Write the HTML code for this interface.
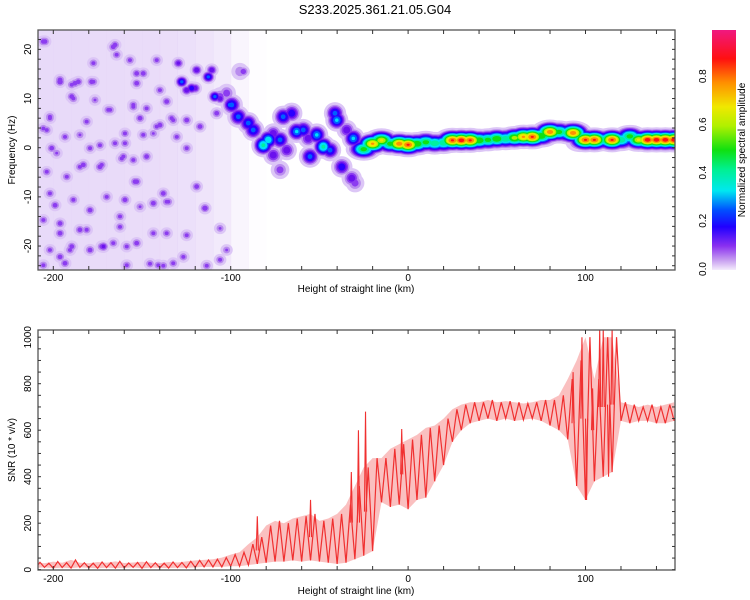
<!DOCTYPE html>
<html><head><meta charset="utf-8"><style>
body{margin:0;background:#fff;}
svg{display:block;font-family:"Liberation Sans",sans-serif;}
</style></head><body>
<svg id="chart" width="750" height="600" viewBox="0 0 750 600" xmlns="http://www.w3.org/2000/svg">
<defs><linearGradient id="cbar" x1="0" y1="1" x2="0" y2="0">
<stop offset="0" stop-color="#f4ecfc"/><stop offset="0.04" stop-color="#c8a0f0"/><stop offset="0.1" stop-color="#8a30f0"/><stop offset="0.18" stop-color="#2000ff"/><stop offset="0.25" stop-color="#0050ff"/><stop offset="0.33" stop-color="#00e8f0"/><stop offset="0.42" stop-color="#00f090"/><stop offset="0.5" stop-color="#10e010"/><stop offset="0.6" stop-color="#b0f000"/><stop offset="0.68" stop-color="#f0e800"/><stop offset="0.78" stop-color="#ff9000"/><stop offset="0.88" stop-color="#ff1010"/><stop offset="1" stop-color="#f01880"/>
</linearGradient>
<clipPath id="clipTop"><rect x="38" y="30" width="637" height="240"/></clipPath>
<clipPath id="clipBot"><rect x="38" y="330" width="637" height="240"/></clipPath>
</defs>
<text x="375" y="14" text-anchor="middle" font-size="13">S233.2025.361.21.05.G04</text>
<g id="top" clip-path="url(#clipTop)"></g>
<g id="bot" clip-path="url(#clipBot)"></g>
<g id="axes"></g>
<rect x="712" y="30" width="24" height="240" fill="url(#cbar)"/>
<g id="cbaxis"></g>
<text transform="translate(745,150) rotate(-90)" text-anchor="middle" font-size="10">Normalized spectral amplitude</text>
<text transform="translate(15,150) rotate(-90)" text-anchor="middle" font-size="10">Frequency (Hz)</text>
<text transform="translate(15,450) rotate(-90)" text-anchor="middle" font-size="10">SNR (10 * v/v)</text>
<text x="356" y="292" text-anchor="middle" font-size="10">Height of straight line (km)</text>
<text x="356" y="594" text-anchor="middle" font-size="10">Height of straight line (km)</text>
</svg>
<script>
// ---- data ----
const xTicks=[-200,-100,0,100];
const freqTicks=[-20,-10,0,10,20];
const snrTicks=[0,200,400,600,800,1000];
const cbTicks=[0.0,0.2,0.4,0.6,0.8];
const noiseBandX=[-210,-200,-190,-180,-170,-160,-150,-140,-130,-120,-110,-100,-90];
const noiseBandLevel=[0.9,0.9,0.9,0.88,0.88,0.86,0.85,0.8,0.75,0.65,0.5,0.25,0.06];
const noiseX=[-205.6,-196.2,-189.6,-185.9,-178.4,-165.2,-164.3,-168,-176.5,-188.7,-201.9,-205.6,-185,-173.7,-159.6,-149.3,-139.9,-154.9,-143.6,-129.5,-119.2,-110.7,-127.6,-124.8,-120.1,-106,-100.4,-92.9,-153.9,-138,-135.2,-114.5,-173.7,-160.5,-185,-192.4,-201.9,-205.6,-196.2,-185,-179.3,-171.8,-190.6,-196.2,-205.6,-145.5,-138,-151.1,-162.4,-158.6,-143.6,-126.7,-106,-113.5,-198.1,-181.2,-153,-154.9,-147.4,-124.8,-117.3,-132.4,-107.9,-139.9,-149.3,
-204.7,-196.2,-187.8,-177.4,-166.2,-156.8,-153,-141.7,-177.4,-189.6,-169,-154.9,-151.1,-201.9,-203.7,-193.4,-200.9,-179.3,-165.2,-159.6,-141.7,-136.1,-133.3,-130.4,-124.8,-147.4,-161.4,-172.7,-183.1,-203.7,-153,-136.1,-143.6,-159.6,-169.9,-188.7,-199,-179.3,-162.4,-196.2,-181.2,-172.7,-201.9,-189.6,-179.3,-153,-166.2,-136.1,-124.8,-114.5,-106,-119.2,-102.3,-158.6,-132.4,-193.4,-112.6,-122,-108.9,-140.8];
const noiseY=[21.6,13.4,12.8,13.4,13.4,20.9,18.9,7.7,9.7,10,6.3,3.9,2.6,0.5,0.9,2.6,4.6,-2.5,2.9,17.2,15.8,15.8,13.4,11.7,12.1,10,8.7,15.5,-6.9,-9.3,-11,-12.3,-3.9,-1.8,-3.9,-5.9,-9.3,-14.7,-17.4,-16.7,-20.8,-20.1,-20.8,-22.2,-23.9,-23.6,-24,-12,-16.1,-20.1,-17.4,-22.2,-22.8,-24,-1.1,5.3,13.1,8.7,8,5.6,4.3,5.6,7,11.7,15.1,
21.6,13.8,13.1,13.4,20.5,17.8,15.1,17.8,17.2,10.4,7.7,8.3,6,6,3.6,2.2,-0.1,-0.1,0.9,2.9,4.3,9.4,6,2.2,-0.1,-1.8,-2.2,-3.5,-3.5,-4.9,-6.9,-11,-11.3,-10.6,-10,-10.6,-11.7,-12.7,-14,-15.4,-16.7,-20.1,-20.8,-20.1,-20.8,-19.4,-19.4,-17.4,-17.8,-12.3,-16.4,-7.9,-20.8,-23.9,-23.5,-23.5,14.4,12.1,10.4,-23.9];
const noiseAmp=[0.15,0.16,0.14,0.15,0.15,0.15,0.14,0.14,0.13,0.14,0.14,0.14,0.13,0.14,0.14,0.14,0.15,0.14,0.13,0.18,0.2,0.2,0.3,0.2,0.2,0.2,0.32,0.16,0.15,0.15,0.14,0.16,0.15,0.14,0.14,0.14,0.14,0.14,0.15,0.15,0.15,0.18,0.14,0.15,0.14,0.14,0.14,0.13,0.14,0.14,0.14,0.14,0.14,0.14,0.13,0.14,0.15,0.14,0.14,0.15,0.15,0.14,0.15,0.14,0.15,
0.15,0.15,0.15,0.14,0.15,0.14,0.15,0.14,0.14,0.15,0.14,0.14,0.15,0.14,0.14,0.14,0.15,0.14,0.14,0.14,0.14,0.15,0.14,0.14,0.14,0.15,0.14,0.14,0.15,0.14,0.15,0.14,0.15,0.15,0.14,0.14,0.15,0.15,0.14,0.15,0.14,0.15,0.14,0.15,0.14,0.15,0.14,0.14,0.14,0.14,0.13,0.15,0.13,0.14,0.14,0.15,0.3,0.25,0.3,0.14];
const streakX=[-99.4,-102.3,-95.7,-90.1,-87.3,-81.6,-78.8,-76,-72.2,-68.4,-76,-72.2,-70.4,-65.6,-62.8,-59.1,-56.3,-55.3,-51.5,-47.8,-44,-41.2,-40.2,-34.6,-30.9,-37.4,-31.8,-29.9,-94.8,-106];
const streakF=[8.7,11.1,6.3,5,3.6,0.5,1.6,2.9,1.6,-0.5,-1.5,-4.5,6.3,7,3.3,3.6,1.9,-1.8,2.6,0.2,-0.5,7,5.6,3.6,1.9,-3.9,-6.2,-7.2,15.5,10.4];
const streakAmp=[0.3,0.15,0.3,0.3,0.3,0.45,0.4,0.2,0.3,0.2,0.2,0.15,0.3,0.25,0.35,0.3,0.2,0.3,0.35,0.45,0.3,0.3,0.35,0.2,0.35,0.25,0.2,0.15,0.12,0.15];
const ridgeX=[-25,-20,-15,-10,-5,0,5,10,15,20,25,30,35,40,45,50,55,60,65,70,75,80,85,90,93,97,100,105,110,115,120,125,130,135,140,145,150];
const ridgeF=[-0.3,0.8,1.5,0.8,0.8,0.6,0.8,1.1,0.9,1.0,1.5,1.5,1.5,1.5,1.6,1.8,1.8,2.0,2.2,2.2,2.4,3.2,3.2,3.0,3.0,1.0,1.6,1.6,1.6,1.6,1.6,2.3,1.6,1.6,1.6,1.6,1.6];
const ridgeAmp=[0.55,0.8,0.7,0.55,0.85,0.9,0.6,0.55,0.5,0.5,0.9,0.95,0.9,0.6,0.55,0.6,0.5,0.65,0.8,0.9,0.6,0.85,0.55,0.5,0.85,0.2,0.9,0.9,0.5,0.9,0.5,0.55,0.7,0.95,0.95,0.95,0.95];
const snrX=[];for(let k=-210;k<=150;k+=5)snrX.push(k);
const snrLo=[8,10,6,9,7,10,8,6,9,7,8,10,6,9,8,7,9,8,10,12, 12,12,15,15,20,25,30,35,35,40,35,40,35,30,25,30,45,60,80,290,270,280,260,300,310,380,450,550,600,630,640,650,640,650,640,645,650,640,620,600,560,360,300,380,400,420,640,630,640,640,630,630,640];
const snrHi=[32,28,35,30,42,30,28,33,30,36,29,31,34,30,28,33,31,36,40,42, 45,52,65,75,110,140,190,210,200,220,230,240,210,220,240,280,360,440,480,480,520,540,560,580,610,620,650,690,710,720,720,730,720,725,720,715,720,730,730,750,820,900,1000,820,1000,1000,720,710,700,710,700,710,720];
const spikeX=[-85,-55,-32,-28,-24,-3.6,93,98,100.6,104,108,110,113,115];
const spikeV=[230,300,420,600,680,605,850,1000,300,780,1040,1040,400,1040];

// ---- scales ----
const X0=38,X1=675;
const xs=k=>408.1+k*1.774;
const fy=f=>147.7-f*4.917;
const sy=v=>569.7-v*0.2325;
const NS="http://www.w3.org/2000/svg";
function mk(tag,attrs,parent){const e=document.createElementNS(NS,tag);for(const k in attrs)e.setAttribute(k,attrs[k]);parent.appendChild(e);return e;}
const levels=[0.03,0.08,0.12,0.16,0.2,0.27,0.33,0.42,0.5,0.6,0.68,0.78,0.88,0.95];
const lcol=["#dcc6f6","#b98cee","#8c3cf0","#6a10ee","#2a00ff","#0060ff","#00e0f8","#00f0a0","#10e010","#b0f000","#f0e800","#ff9000","#ff1010","#f01880"];

const topG=document.getElementById('top');
noiseBandX.forEach((b,i)=>{
  const r=mk('rect',{x:xs(b),y:30,width:10*1.774+0.5,height:240,fill:"#e6d6f8","fill-opacity":noiseBandLevel[i]},topG);
  
  
});
const blobs=[];
noiseX.forEach((x,i)=>blobs.push({cx:xs(x),cy:fy(noiseY[i]),a:noiseAmp[i],sx:3.6,sy:3.4,n:'noise-blob'}));
streakX.forEach((x,i)=>blobs.push({cx:xs(x),cy:fy(streakF[i]),a:streakAmp[i],sx:5.2,sy:5.2,n:'streak-blob'}));
ridgeX.forEach((x,i)=>blobs.push({cx:xs(x),cy:fy(ridgeF[i]),a:ridgeAmp[i],sx:7.5,sy:4.8,n:'ridge-blob'}));
levels.forEach((L,li)=>{
  blobs.forEach(b=>{
    if(b.a<=L)return;
    const s=Math.sqrt(2*Math.log(b.a/L));
    const e=mk('ellipse',{cx:b.cx,cy:b.cy,rx:b.sx*s,ry:b.sy*s,fill:lcol[li]},topG);
    
    
  });
});

// SNR
const botG=document.getElementById('bot');
let band=[];
snrX.forEach((x,i)=>band.push(xs(x)+','+sy(snrHi[i])));
for(let i=snrX.length-1;i>=0;i--)band.push(xs(snrX[i])+','+sy(snrLo[i]));
const bandEl=mk('polygon',{points:band.join(' '),fill:'#f03030','fill-opacity':0.3},botG);


let pts=[];
snrX.forEach((x,i)=>{pts.push(xs(x)+','+sy(snrLo[i]));pts.push(xs(x+2.5)+','+sy(snrHi[i]));});
const snrLine=mk('polyline',{points:pts.join(' '),fill:'none',stroke:'#f03030','stroke-width':1.2},botG);


spikeX.forEach((x,i)=>{
  const j=Math.min(snrX.length-1,Math.max(0,Math.round((x+210)/5)));
  const base=(snrLo[j]+snrHi[j])/2;
  const s=mk('polyline',{points:`${xs(x-0.6)},${sy(base)} ${xs(x)},${sy(spikeV[i])} ${xs(x+0.6)},${sy(base)}`,fill:'none',stroke:'#f03030','stroke-width':1.1},botG);
  
  
});

// axes
const axG=document.getElementById('axes');
function frame(y0,y1,nm){
  const r=mk('rect',{x:X0,y:y0,width:X1-X0,height:y1-y0,fill:'none',stroke:'#555','stroke-width':1.3},axG);
  
  
}
frame(30,270,'top-plot-frame');frame(330,570,'bottom-plot-frame');
function ln(x1,y1,x2,y2){mk('line',{x1,y1,x2,y2,stroke:'#333','stroke-width':1},axG);}
for(let k=-200;k<=140;k+=20){const x=xs(k);[[30,270],[330,570]].forEach(([a,b])=>{ln(x,a,x,a+4);ln(x,b,x,b-4);});}
xTicks.forEach(k=>{[281,582].forEach(y=>{
  const t=mk('text',{x:xs(k),y:y,'text-anchor':'middle','font-size':10},axG);t.textContent=k;
  
  
});});
for(let f=-24;f<=24;f+=2){const y=fy(f);if(y<31||y>269)continue;ln(X0,y,X0+3,y);ln(X1,y,X1-3,y);}
freqTicks.forEach(f=>{
  const t=mk('text',{transform:`translate(31,${fy(f)}) rotate(-90)`,'text-anchor':'middle','font-size':10},axG);t.textContent=f;
  
  
});
for(let v=0;v<=1000;v+=50){const y=sy(v);ln(X0,y,X0+3,y);ln(X1,y,X1-3,y);}
snrTicks.forEach(v=>{
  const t=mk('text',{transform:`translate(31,${sy(v)}) rotate(-90)`,'text-anchor':'middle','font-size':10},axG);t.textContent=v;
  
  
});
const cbG=document.getElementById('cbaxis');
cbTicks.forEach(v=>{
  const t=mk('text',{transform:`translate(706,${269-v*241}) rotate(-90)`,'text-anchor':'middle','font-size':10},cbG);t.textContent=v.toFixed(1);
  
  
});
</script>
</body></html>
